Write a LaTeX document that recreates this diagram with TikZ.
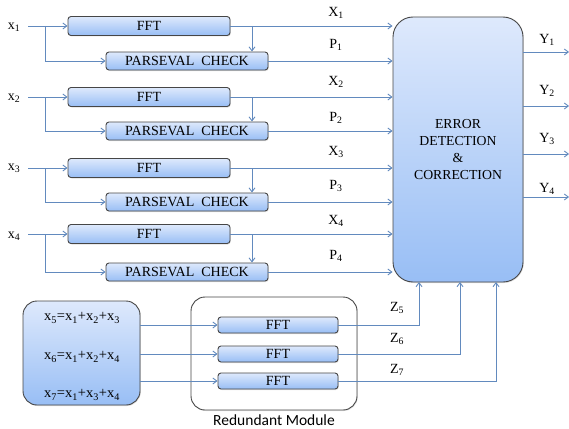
\documentclass[tikz,border=0pt]{standalone}
\usepackage{fontspec}
\setmainfont{Liberation Serif}
\newfontfamily\calib{Carlito}
\usetikzlibrary{arrows.meta,shadows}
\definecolor{lnc}{RGB}{98,138,190}
\definecolor{boxtop}{RGB}{222,233,252}
\definecolor{boxbot}{RGB}{152,190,245}
\definecolor{bord}{RGB}{70,70,70}
\newcommand{\sbs}[1]{\textsubscript{#1}}
\tikzset{
  blk/.style={draw=bord, line width=0.9pt, rounded corners=3pt, top color=boxtop, bottom color=boxbot,
    inner sep=0pt, font=\fontsize{14}{16}\selectfont,
    drop shadow={shadow xshift=0.8pt, shadow yshift=-1pt, opacity=0.25}},
  arr/.style={draw=lnc, line width=0.9pt, -{Straight Barb[length=4pt,width=6pt]}},
  lbl/.style={font=\fontsize{14}{16}\selectfont, inner sep=0pt},
  eq/.style={font=\fontsize{14.5}{16}\selectfont, inner sep=0pt},
}
\begin{document}
\begin{tikzpicture}[x=1pt,y=-1pt]
\useasboundingbox (0,0) rectangle (569,428);
% FFT and Parseval blocks
\foreach \i/\fy/\py/\xy in {1/26/61/27, 2/97/131/98, 3/168/202/168, 4/234/272/236}{
  \node[blk, minimum width=162pt, minimum height=19pt] (fft\i) at (149,\fy) {FFT};
  \node[blk, minimum width=162pt, minimum height=18pt] (par\i) at (187,\py) {PARSEVAL\ \ CHECK};
  \node[lbl] (in\i) at (14,\xy) {x\sbs{\i}};
  \coordinate (st\i) at (28,\fy);
  \coordinate (br\i) at (45,\fy);
  \coordinate (dn\i) at (252,\fy);
}
% big box
\node[blk, rounded corners=20pt, minimum width=130pt, minimum height=265pt, align=center,
  font=\fontsize{13.75}{17}\selectfont] (ecc) at (458,149.5) {ERROR\\DETECTION\\\&\\CORRECTION};
% inputs and connections
\foreach \i in {1,...,4}{
  \draw[arr] (st\i) -- (fft\i.west);
  \draw[arr] (br\i) |- (par\i.west);
  \draw[arr] (fft\i.east) -- (fft\i.east -| ecc.west);
  \draw[arr] (par\i.east) -- (par\i.east -| ecc.west);
  \draw[arr] (dn\i) -- (dn\i |- par\i.north);
}
% X and P labels
\node[lbl] (lx1) at (336,13) {X\sbs{1}};
\node[lbl] (lp1) at (336,45) {P\sbs{1}};
\node[lbl] (lx2) at (336,82) {X\sbs{2}};
\node[lbl] (lp2) at (336,118) {P\sbs{2}};
\node[lbl] (lx3) at (336,152) {X\sbs{3}};
\node[lbl] (lp3) at (336,186) {P\sbs{3}};
\node[lbl] (lx4) at (336,221) {X\sbs{4}};
\node[lbl] (lp4) at (336,256) {P\sbs{4}};
% outputs
\foreach \i/\yy/\ly in {1/52/40, 2/106/91, 3/154/139, 4/197/189}{
  \coordinate (out\i) at (569,\yy);
  \draw[arr] (ecc.east |- out\i) -- (out\i);
  \node[lbl] (ly\i) at (547,\ly) {Y\sbs{\i}};
}
% bottom: sum box
\node[blk, rounded corners=14pt, minimum width=117pt, minimum height=104pt] (sum) at (81.5,353) {};
\node[eq] (e5) at (82,318) {x\sbs{5}=x\sbs{1}+x\sbs{2}+x\sbs{3}};
\node[eq] (e6) at (82,357) {x\sbs{6}=x\sbs{1}+x\sbs{2}+x\sbs{4}};
\node[eq] (e7) at (82,395) {x\sbs{7}=x\sbs{1}+x\sbs{3}+x\sbs{4}};
% redundant module
\node[draw=bord, line width=0.9pt, rounded corners=14pt, minimum width=166pt, minimum height=113pt,
  drop shadow={shadow xshift=0.8pt, shadow yshift=-1pt, opacity=0.2}, fill=white] (red) at (274,353.5) {};
\node[font=\calib\fontsize{15.5}{17}\selectfont, inner sep=0pt] (redl) at (274,420) {Redundant Module};
\foreach \i/\yy/\zx/\zl in {5/325/419/308, 6/354/460/339, 7/381/496/370}{
  \node[blk, minimum width=120pt, minimum height=16pt] (f\i) at (278,\yy) {FFT};
  \draw[arr] (f\i.west -| sum.east) -- (f\i.west);
  \coordinate (z\i) at (\zx,282);
  \draw[arr] (f\i.east) -| (z\i);
  \node[lbl] (lz\i) at (397,\zl) {Z\sbs{\i}};
}
\end{tikzpicture}
\end{document}
